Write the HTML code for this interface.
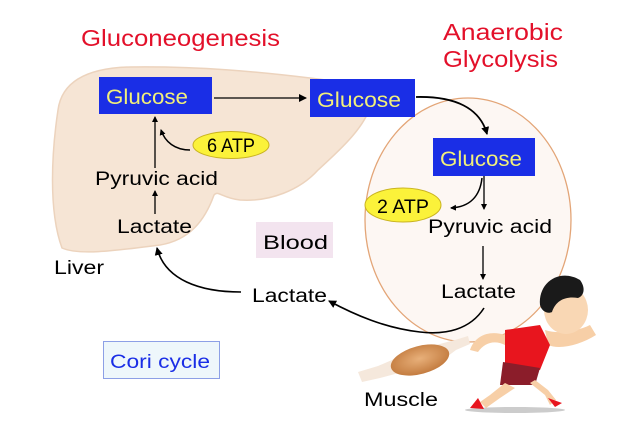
<!DOCTYPE html>
<html><head><meta charset="utf-8"><style>
html,body{margin:0;padding:0;background:#fff;}
body{width:624px;height:439px;overflow:hidden;position:relative;font-family:"Liberation Sans",sans-serif;}
</style></head><body>
<svg width="624" height="439" viewBox="0 0 624 439" xmlns="http://www.w3.org/2000/svg" style="position:absolute;left:0;top:0">
<defs>
<marker id="ah" markerWidth="8" markerHeight="8" refX="7" refY="4" orient="auto" markerUnits="userSpaceOnUse"><path d="M0,0 L8,4 L0,8 z" fill="#000"/></marker>
<marker id="ahs" markerWidth="6" markerHeight="6" refX="5" refY="3" orient="auto" markerUnits="userSpaceOnUse"><path d="M0,0 L6,3 L0,6 z" fill="#000"/></marker>
<radialGradient id="mg" cx="0.5" cy="0.45" r="0.6"><stop offset="0" stop-color="#e8b07a"/><stop offset="1" stop-color="#c0773a"/></radialGradient>
</defs>
<!-- liver -->
<path d="M58,110 C62,80 90,68 130,67 C200,66 260,72 310,78 C345,82 372,88 372,100 C368,125 340,150 318,170 C300,190 270,202 240,200 C222,198 218,190 214,195 C205,220 190,240 160,245 C120,250 80,256 62,248 C48,210 52,150 58,110 Z" fill="#f6e5d5" stroke="#ecd3bd" stroke-width="1.5"/>
<!-- muscle ellipse -->
<ellipse cx="468" cy="220" rx="103" ry="122" fill="#fdf7f3" stroke="#e3a577" stroke-width="1.3"/>
<!-- Blood box -->
<rect x="256" y="222" width="77" height="36" fill="#f3e4ef"/>
<!-- cori box -->
<rect x="103.5" y="341.5" width="116" height="37" fill="#eef7fb" stroke="#8da0e6" stroke-width="1"/>
<!-- glucose boxes -->
<rect x="99" y="77" width="113" height="37" fill="#1a2ee6"/>
<rect x="310" y="79" width="105" height="38" fill="#1a2ee6"/>
<rect x="433" y="138" width="102" height="38" fill="#1a2ee6"/>
<!-- ATP ellipses -->
<ellipse cx="231" cy="145" rx="38" ry="13.5" fill="#fbf23a" stroke="#c9b320" stroke-width="1"/>
<ellipse cx="403" cy="205" rx="38" ry="17" fill="#fbf23a" stroke="#c9b320" stroke-width="1"/>
<!-- arrows -->
<line x1="214" y1="98" x2="306" y2="98" stroke="#000" stroke-width="1.3" marker-end="url(#ah)"/>
<path d="M416,97 C455,96 480,108 487,134" fill="none" stroke="#000" stroke-width="1.8" marker-end="url(#ah)"/>
<line x1="155" y1="168" x2="155" y2="117" stroke="#000" stroke-width="1.3" marker-end="url(#ahs)"/>
<path d="M190,150 C175,150 165,142 161,130" fill="none" stroke="#000" stroke-width="1.5" marker-end="url(#ahs)"/>
<line x1="155" y1="214" x2="155" y2="191" stroke="#000" stroke-width="1.3" marker-end="url(#ahs)"/>
<line x1="484" y1="176" x2="484" y2="209" stroke="#000" stroke-width="1.3" marker-end="url(#ahs)"/>
<path d="M482,178 C480,196 470,207 451,208" fill="none" stroke="#000" stroke-width="1.5" marker-end="url(#ahs)"/>
<line x1="483" y1="246" x2="483" y2="279" stroke="#000" stroke-width="1.3" marker-end="url(#ahs)"/>
<path d="M241,292 C200,292 165,280 157,248" fill="none" stroke="#000" stroke-width="1.6" marker-end="url(#ah)"/>
<path d="M484,308 C470,330 445,335 420,332 C385,328 355,315 329,301" fill="none" stroke="#000" stroke-width="1.6" marker-end="url(#ah)"/>
<!-- muscle graphic -->
<path d="M358,372 L378,366 L392,360 L404,352 L432,346 L455,340 L468,336 L470,344 L456,350 L440,362 L415,372 L395,374 L380,378 L362,382 Z" fill="#f5e8dc"/>
<ellipse cx="420" cy="360" rx="30" ry="14" fill="url(#mg)" transform="rotate(-15 420 360)"/>
<!-- runner -->
<ellipse cx="515" cy="410" rx="50" ry="3" fill="#ccc"/>
<path d="M545,330 C560,335 580,330 590,325 L596,335 C580,345 560,350 548,345 Z" fill="#f7cfa7"/>
<path d="M505,335 C490,330 475,335 470,350 L478,352 C485,342 495,340 505,345 Z" fill="#f7cfa7"/>
<path d="M505,330 L540,325 L550,345 L540,370 L505,365 Z" fill="#e8151e"/>
<path d="M503,362 L540,368 L535,385 L500,385 Z" fill="#8b1d2a"/>
<path d="M505,383 L490,395 L480,402 L486,408 L500,398 L515,388 Z" fill="#f7cfa7"/>
<path d="M530,383 L545,395 L550,405 L556,400 L548,390 L535,380 Z" fill="#f7cfa7"/>
<path d="M478,398 L470,408 L484,409 Z" fill="#e8151e"/>
<path d="M548,398 L555,407 L562,403 Z" fill="#e8151e"/>
<ellipse cx="566" cy="310" rx="22" ry="24" fill="#f9d7b4"/>
<path d="M540,305 C538,282 560,268 580,280 C586,288 584,296 578,298 C566,296 556,300 552,312 C548,314 542,312 540,305 Z" fill="#1a1a1a"/>
<!-- texts -->
<g font-family="Liberation Sans, sans-serif">
<text x="81" y="46" font-size="23" fill="#e3102a" textLength="199" lengthAdjust="spacingAndGlyphs">Gluconeogenesis</text>
<text x="443" y="40" font-size="23" fill="#e3102a" textLength="120" lengthAdjust="spacingAndGlyphs">Anaerobic</text>
<text x="443" y="67" font-size="23" fill="#e3102a" textLength="115" lengthAdjust="spacingAndGlyphs">Glycolysis</text>
<g fill="#f2f07a" font-size="21">
<text x="106" y="104" textLength="82" lengthAdjust="spacingAndGlyphs">Glucose</text>
<text x="317" y="107" textLength="84" lengthAdjust="spacingAndGlyphs">Glucose</text>
<text x="440" y="166" textLength="82" lengthAdjust="spacingAndGlyphs">Glucose</text>
</g>
<g fill="#000" font-size="19">
<text x="207" y="152" textLength="48" lengthAdjust="spacingAndGlyphs">6 ATP</text>
<text x="377" y="213" textLength="52" lengthAdjust="spacingAndGlyphs">2 ATP</text>
<text x="95" y="185" textLength="123" lengthAdjust="spacingAndGlyphs">Pyruvic acid</text>
<text x="117" y="233" textLength="75" lengthAdjust="spacingAndGlyphs">Lactate</text>
<text x="54" y="274" textLength="50" lengthAdjust="spacingAndGlyphs">Liver</text>
<text x="263" y="249" textLength="65" lengthAdjust="spacingAndGlyphs">Blood</text>
<text x="252" y="302" textLength="75" lengthAdjust="spacingAndGlyphs">Lactate</text>
<text x="428" y="233" textLength="124" lengthAdjust="spacingAndGlyphs">Pyruvic acid</text>
<text x="441" y="298" textLength="75" lengthAdjust="spacingAndGlyphs">Lactate</text>
<text x="364" y="406" textLength="74" lengthAdjust="spacingAndGlyphs">Muscle</text>
</g>
<text x="110" y="368" font-size="19" fill="#1a2ee6" textLength="100" lengthAdjust="spacingAndGlyphs">Cori cycle</text>
</g>
</svg>
</body></html>
